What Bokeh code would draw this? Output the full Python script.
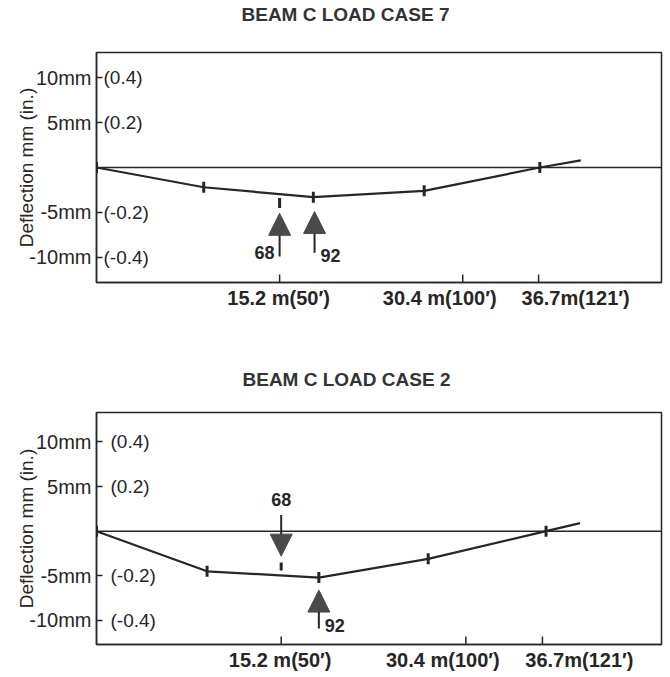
import math
from bokeh.plotting import figure
from bokeh.models import (ColumnDataSource, FixedTicker, Span, Arrow,
                          NormalHead, Title, Range1d)
from bokeh.layouts import column
from bokeh.embed import file_html
from bokeh.resources import INLINE
from bokeh.core.properties import value

# ---------------- data ----------------
title_top = "BEAM C LOAD CASE 7"
title_bot = "BEAM C LOAD CASE 2"

# deflection along the beam (m, mm)
dist_top = [0.0, 8.9, 18.0, 27.2, 36.8, 40.2]
defl_top = [0.0, -2.2, -3.3, -2.6, 0.0, 0.8]
dist_bot = [0.0, 9.1, 18.3, 27.3, 37.0, 39.8]
defl_bot = [0.0, -4.5, -5.2, -3.1, 0.0, 0.9]
gauge_count = 5  # first five points carry a gauge mark

# load positions (m)
load_names = ["68", "92"]
load_x_top = [15.2, 18.1]
load_x_bot = [15.2, 18.3]

x_ticks = [15.2, 30.4, 36.7]
x_tick_labels = ["15.2 m(50\u2032)", "30.4 m(100\u2032)", "36.7m(121\u2032)"]
y_ticks = [10, 5, -5, -10]
y_labels_mm = ["10mm", "5mm", "-5mm", "-10mm"]
y_labels_in = ["(0.4)", "(0.2)", "(-0.2)", "(-0.4)"]
y_axis_title = "Deflection mm (in.)"

# ---------------- style ----------------
FONT = "Liberation Sans"
INK = "#262626"
ARROW = "#4a4a4a"
FIG_W = 663
BORDER_L = 96
BORDER_R = 2
FRAME_W = FIG_W - BORDER_L - BORDER_R
X_LABEL_SHIFT_PX = [-1, -23, 37]   # printed labels sit off their ticks
X_TICK_LEN_PX = 8


def make_panel(title, xs, ys, x_max, y_lo, y_hi, height, mb_top, mb_bottom,
               frame_h, inner_offset, title_offset, title_gap):
    p = figure(width=FIG_W, height=height, title=None,
               x_range=Range1d(0, x_max), y_range=Range1d(y_lo, y_hi),
               output_backend="svg", toolbar_location=None,
               min_border_left=BORDER_L, min_border_right=BORDER_R,
               min_border_top=mb_top, min_border_bottom=mb_bottom)
    p.xgrid.visible = False
    p.ygrid.visible = False
    p.outline_line_color = INK
    p.outline_line_width = 1.5
    p.background_fill_color = "white"
    p.border_fill_color = "white"

    # x axis: labels placed as printed (slightly off their ticks)
    px_per_m = FRAME_W / x_max
    label_pos = [t + s / px_per_m for t, s in zip(x_ticks, X_LABEL_SHIFT_PX)]
    xa = p.xaxis[0]
    xa.ticker = FixedTicker(ticks=label_pos)
    xa.major_label_overrides = {pos: lab for pos, lab in
                                zip(label_pos, x_tick_labels)}
    xa.major_tick_in = 0
    xa.major_tick_out = 0
    xa.minor_tick_in = 0
    xa.minor_tick_out = 0
    xa.major_tick_line_color = None
    xa.minor_tick_line_color = None
    xa.axis_line_color = INK
    xa.axis_line_width = 1.5
    xa.major_label_standoff = 4
    xa.major_label_text_font = FONT
    xa.major_label_text_font_size = "20px"
    xa.major_label_text_font_style = "bold"
    xa.major_label_text_color = INK

    # inward tick marks at the true tick positions
    tick_len = X_TICK_LEN_PX * (y_hi - y_lo) / frame_h
    p.segment(x0=x_ticks, y0=[y_lo] * len(x_ticks), x1=x_ticks,
              y1=[y_lo + tick_len] * len(x_ticks),
              line_color=INK, line_width=1.5)

    ya = p.yaxis[0]
    ya.ticker = FixedTicker(ticks=y_ticks)
    ya.major_label_overrides = {t: l for t, l in zip(y_ticks, y_labels_mm)}
    ya.major_tick_in = 6
    ya.major_tick_out = 0
    ya.minor_tick_in = 0
    ya.minor_tick_out = 0
    ya.major_tick_line_color = INK
    ya.major_tick_line_width = 1.5
    ya.axis_line_color = INK
    ya.axis_line_width = 1.5
    ya.major_label_standoff = 5
    ya.major_label_text_font = FONT
    ya.major_label_text_font_size = "20px"
    ya.major_label_text_color = INK
    ya.axis_label = y_axis_title
    ya.axis_label_text_font = FONT
    ya.axis_label_text_font_size = "19px"
    ya.axis_label_text_font_style = "normal"
    ya.axis_label_text_color = INK
    ya.axis_label_standoff = -11

    # zero reference line
    p.add_layout(Span(location=0, dimension="width", line_color=INK,
                      line_width=1.5))

    # inch labels inside the frame
    p.text(x=[0] * len(y_ticks), y=y_ticks, text=y_labels_in,
           x_offset=inner_offset, text_baseline="middle", text_align="left",
           text_font=value(FONT), text_font_size="19px", text_color=INK)

    # deflection curve and gauge marks
    p.line(xs, ys, line_color=INK, line_width=2.2)
    p.scatter(xs[:gauge_count], ys[:gauge_count], marker="dash",
              angle=math.pi / 2, size=11, line_color=INK, line_width=3)

    # blank spacer title between the frame and the real title
    p.add_layout(Title(text=" ", text_font_size="10px",
                       standoff=title_gap - 12), "above")
    p.add_layout(Title(text=title, align="left", offset=title_offset,
                       vertical_align="top", standoff=0,
                       text_font=FONT, text_font_size="19px",
                       text_font_style="bold", text_color="#333333"),
                 "above")
    return p


def add_arrow(p, x, y_start, y_end):
    src = ColumnDataSource(dict(x0=[x], y0=[y_start], x1=[x], y1=[y_end]))
    p.add_layout(Arrow(source=src, x_start="x0", y_start="y0",
                       x_end="x1", y_end="y1", line_color=INK, line_width=2,
                       end=NormalHead(size=22, fill_color=ARROW,
                                      line_color=ARROW, line_width=1)))


def add_load_label(p, x, y, text, align, xoff):
    p.text(x=[x], y=[y], text=[text], text_align=align,
           text_baseline="middle", x_offset=xoff, text_font=value(FONT),
           text_font_size="18px", text_font_style="bold", text_color=INK)


# ---------------- top panel ----------------
p1 = make_panel(title_top, dist_top, defl_top, 46.9, -12.8, 12.8,
                height=366, mb_top=52, mb_bottom=84, frame_h=230,
                inner_offset=7, title_offset=145, title_gap=25)
p1.segment(x0=[load_x_top[0]], y0=[-3.4], x1=[load_x_top[0]], y1=[-4.5],
           line_color=INK, line_width=3)
add_arrow(p1, load_x_top[0], -9.9, -5.1)
add_load_label(p1, load_x_top[0], -9.5, load_names[0], "right", -5)
add_arrow(p1, load_x_top[1], -9.5, -4.9)
add_load_label(p1, load_x_top[1], -9.8, load_names[1], "left", 6)

# ---------------- bottom panel ----------------
p2 = make_panel(title_bot, dist_bot, defl_bot, 46.5, -12.7, 13.3,
                height=311, mb_top=46, mb_bottom=33, frame_h=232,
                inner_offset=14, title_offset=146, title_gap=20)
add_arrow(p2, load_x_bot[0], 1.8, -2.8)
p2.segment(x0=[load_x_bot[0]], y0=[-3.5], x1=[load_x_bot[0]], y1=[-4.4],
           line_color=INK, line_width=3)
add_load_label(p2, load_x_bot[0], 3.5, load_names[0], "center", 0)
add_arrow(p2, load_x_bot[1], -10.9, -6.6)
add_load_label(p2, load_x_bot[1], -10.6, load_names[1], "left", 6)

layout = column(p1, p2, spacing=0)
open("out.html", "w").write(file_html(layout, INLINE))
